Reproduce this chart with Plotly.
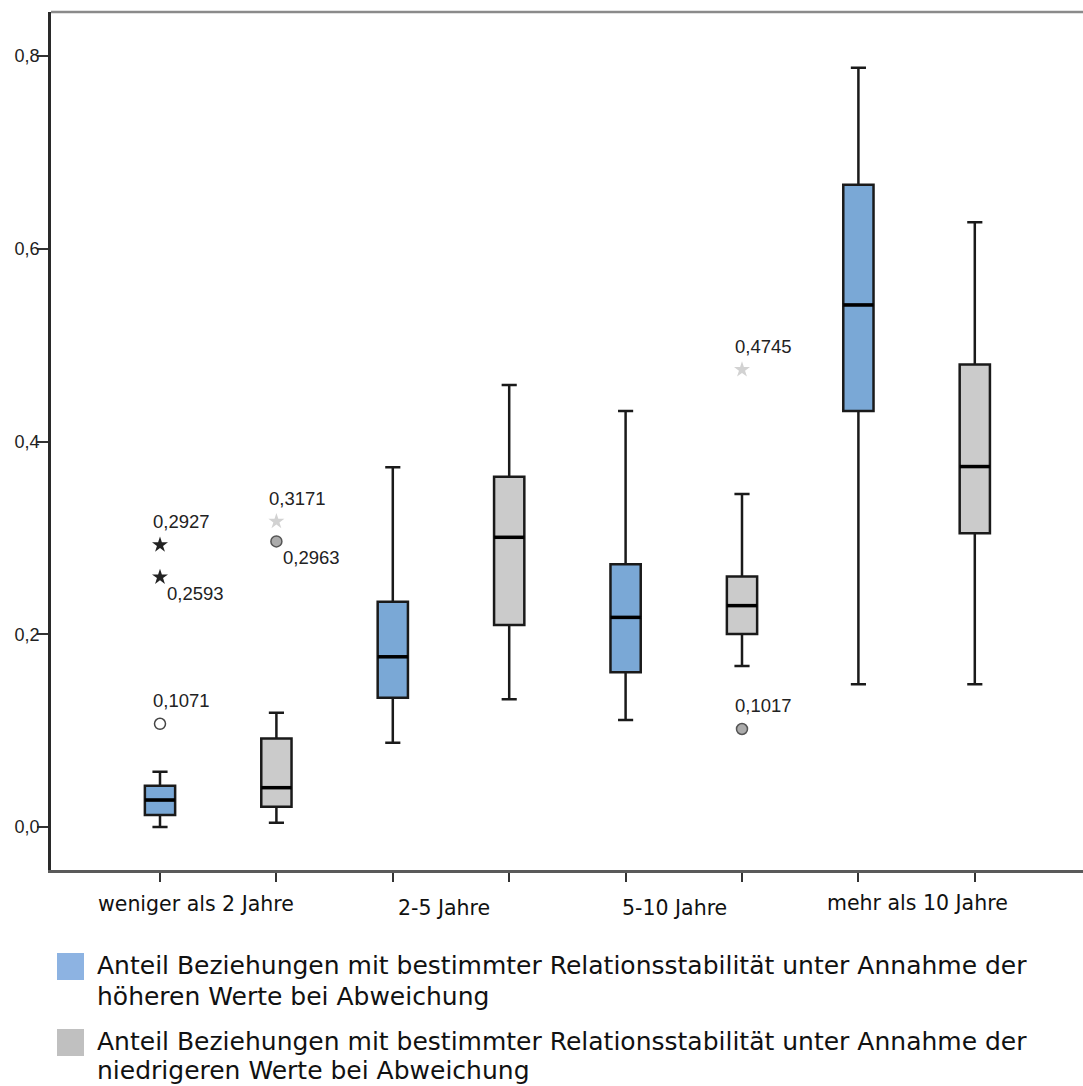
import plotly.graph_objects as go

# ---- data ---------------------------------------------------------------
categories = ["weniger als 2 Jahre", "2-5 Jahre", "5-10 Jahre", "mehr als 10 Jahre"]
series_names = [
    ["Anteil Beziehungen mit bestimmter Relationsstabilität unter Annahme der",
     "höheren Werte bei Abweichung"],
    ["Anteil Beziehungen mit bestimmter Relationsstabilität unter Annahme der",
     "niedrigeren Werte bei Abweichung"],
]

# box statistics, assumption of the higher values
hi_low = [0.0000, 0.0875, 0.1110, 0.1482]
hi_q1 = [0.0125, 0.1342, 0.1605, 0.4317]
hi_median = [0.0280, 0.1766, 0.2175, 0.5417]
hi_q3 = [0.0429, 0.2336, 0.2726, 0.6663]
hi_high = [0.0574, 0.3732, 0.4316, 0.7879]

# box statistics, assumption of the lower values
lo_low = [0.0045, 0.1325, 0.1670, 0.1482]
lo_q1 = [0.0210, 0.2096, 0.2003, 0.3048]
lo_median = [0.0408, 0.3006, 0.2297, 0.3740]
lo_q3 = [0.0918, 0.3635, 0.2598, 0.4799]
lo_high = [0.1186, 0.4586, 0.3455, 0.6276]

# outliers ("out" = circle, "ext" = extreme value / star)
hi_out_cat = [0, 0, 0]
hi_out_val = [0.1071, 0.2927, 0.2593]
hi_out_kind = ["out", "ext", "ext"]
lo_out_cat = [0, 0, 2, 2]
lo_out_val = [0.2963, 0.3171, 0.4745, 0.1017]
lo_out_kind = ["out", "ext", "ext", "out"]

y_ticks = [0.0, 0.2, 0.4, 0.6, 0.8]
y_tick_text = ["0,0", "0,2", "0,4", "0,6", "0,8"]

# ---- styling ------------------------------------------------------------
BLUE = "#7aa8d6"
GREY = "#cbcbcb"
BLUE_KEY = "#8db3e2"
GREY_KEY = "#c0c0c0"
BOX_W = 0.26
hi_label_side = ["above", "above", "below"]
lo_label_side = ["below", "above", "above", "above"]

hi_x = [2 * i for i in range(len(categories))]
lo_x = [2 * i + 1 for i in range(len(categories))]

fig = go.Figure()

for xs, low, q1, med, q3, high, fill in [
    (hi_x, hi_low, hi_q1, hi_median, hi_q3, hi_high, BLUE),
    (lo_x, lo_low, lo_q1, lo_median, lo_q3, lo_high, GREY),
]:
    fig.add_trace(go.Box(
        x=xs, q1=q1, median=med, q3=q3, lowerfence=low, upperfence=high,
        width=BOX_W, whiskerwidth=0.5, boxpoints=False,
        fillcolor=fill, line=dict(color="#1a1a1a", width=2.5),
        showlegend=False, hoverinfo="skip",
    ))
    # thick median bars
    mx, my = [], []
    for x, m in zip(xs, med):
        mx += [x - BOX_W / 2, x + BOX_W / 2, None]
        my += [m, m, None]
    fig.add_trace(go.Scatter(x=mx, y=my, mode="lines",
                             line=dict(color="black", width=3.5),
                             showlegend=False, hoverinfo="skip"))


def fmt(v):
    return f"{v:.4f}".replace(".", ",")


annotations = []
outlier_sets = [
    (hi_x, hi_out_cat, hi_out_val, hi_out_kind, hi_label_side,
     dict(out=dict(symbol="circle", color="white", line=dict(color="#444", width=1.5), size=11),
          ext=dict(symbol="star", color="#222", line=dict(color="#222", width=0), size=12))),
    (lo_x, lo_out_cat, lo_out_val, lo_out_kind, lo_label_side,
     dict(out=dict(symbol="circle", color="#ababab", line=dict(color="#555", width=1.5), size=11),
          ext=dict(symbol="star", color="#d2d2d2", line=dict(color="#d2d2d2", width=0), size=12))),
]
for xs, cats, vals, kinds, sides, styles in outlier_sets:
    for kind in ["out", "ext"]:
        px = [xs[c] for c, k in zip(cats, kinds) if k == kind]
        py = [v for v, k in zip(vals, kinds) if k == kind]
        if px:
            fig.add_trace(go.Scatter(x=px, y=py, mode="markers", marker=styles[kind],
                                     showlegend=False, hoverinfo="skip"))
    for c, v, s in zip(cats, vals, sides):
        annotations.append(dict(
            x=xs[c], y=v, xref="x", yref="y", text=fmt(v), showarrow=False,
            xanchor="left", yanchor="middle",
            xshift=-9 if s == "above" else 5,
            yshift=23 if s == "above" else -16,
            font=dict(family="Liberation Sans, Arial, sans-serif", size=18.5, color="#222"),
        ))

# category labels below the axis, centred between each pair of boxes
label_shift_x = [-22, -7, -9, 1]
label_y = [-0.040, -0.044, -0.044, -0.038]
for i, name in enumerate(categories):
    annotations.append(dict(
        x=2 * i + 0.5, y=label_y[i], xref="x", yref="paper", text=name,
        showarrow=False, xanchor="center", yanchor="middle", xshift=label_shift_x[i],
        font=dict(family="DejaVu Sans, Verdana, sans-serif", size=20.5, color="#111"),
    ))

# legend keys
W, H, L, T = 1083, 1086, 51, 12
PW, PH = W - L, 870 - T


def px2x(p):
    return (p - L) / PW


def px2y(p):
    return (870 - p) / PH


shapes = [
    dict(type="line", xref="paper", yref="paper", x0=0, x1=1, y0=1, y1=1,
         line=dict(color="#8a8a8a", width=2.5)),
]
key_rows = [(953, BLUE_KEY, [965, 996]), (1029, GREY_KEY, [1041, 1070])]
for (top, col, line_y), lines in zip(key_rows, series_names):
    shapes.append(dict(type="rect", xref="paper", yref="paper",
                       x0=px2x(57), x1=px2x(84), y0=px2y(top), y1=px2y(top + 27),
                       fillcolor=col, line=dict(width=0)))
    for ty, txt in zip(line_y, lines):
        annotations.append(dict(
            x=px2x(95), y=px2y(ty), xref="paper", yref="paper", text=txt,
            showarrow=False, xanchor="left", yanchor="middle",
            font=dict(family="DejaVu Sans, Verdana, sans-serif", size=25, color="#111"),
        ))

fig.update_layout(
    width=W, height=H,
    margin=dict(l=L, r=0, t=T, b=H - 870),
    paper_bgcolor="white", plot_bgcolor="white",
    annotations=annotations, shapes=shapes,
    xaxis=dict(
        range=[(51 - 160) / 116.4, (1083 - 160) / 116.4],
        tickvals=hi_x + lo_x, ticktext=[""] * 8,
        ticks="outside", ticklen=9, tickwidth=2, tickcolor="#333",
        showgrid=False, zeroline=False,
        showline=True, linecolor="#5a5a5a", linewidth=3,
    ),
    yaxis=dict(
        range=[-43 / 963.75, 815 / 963.75],
        tickvals=y_ticks, ticktext=y_tick_text,
        ticks="outside", ticklen=11, tickwidth=2, tickcolor="#333",
        ticklabelstandoff=-6,
        tickfont=dict(family="Liberation Sans, Arial, sans-serif", size=18, color="#222"),
        showgrid=False, zeroline=False,
        showline=True, linecolor="#2a2a2a", linewidth=2.5,
    ),
)

fig.write_html("out.html")
